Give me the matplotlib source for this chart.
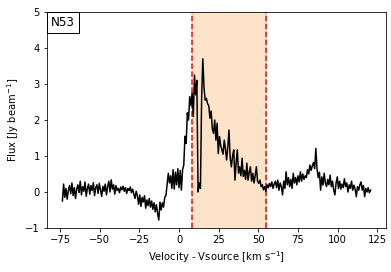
import numpy as np
import matplotlib
matplotlib.use("Agg")
import matplotlib.pyplot as plt

# Spectrum: regular channel grid and flux values
v_start = -73.5
v_step = 0.75
flux = [
    -0.25, 0.22, -0.15, 0.10, -0.20, 0.05, 0.18, -0.05, 0.25, -0.10,
    0.12, -0.18, 0.08, 0.20, -0.02, 0.30, -0.08, 0.15, 0.02, 0.28,
    -0.12, 0.10, 0.22, -0.06, 0.18, 0.04, 0.26, -0.10, 0.12, 0.20,
    -0.04, 0.24, 0.06, -0.12, 0.16, 0.02, 0.22, -0.08, 0.14, 0.30,
    0.00, 0.34, 0.08, 0.20, -0.06, 0.18, 0.04, 0.10, -0.02, 0.14,
    0.06, 0.16, 0.02, 0.12, -0.04, 0.10, 0.04, 0.14, -0.02,
    0.08, -0.05, -0.18, 0.02, -0.10, -0.34, -0.08, -0.40, -0.15, -0.28,
    -0.10, -0.45, -0.22, -0.38, -0.18, -0.42, -0.25, -0.48, -0.30, -0.55,
    -0.35, -0.60, -0.78, -0.28, -0.50, -0.30, -0.42, -0.15,
    -0.10, 0.20, 0.52, 0.25, 0.45, 0.10, 0.62, 0.08, 0.55, 0.20,
    0.65, 0.12, 0.60, 0.05, 0.62,
    0.75, 1.55, 1.35, 2.20, 2.00, 2.65, 2.40, 2.75, 2.10, 3.25,
    2.70, 3.10, 0.00, 0.25, 0.10, 2.60, 3.70, 2.90, 2.55, 2.60,
    2.45, 2.40, 2.05, 2.25, 1.75, 1.63, 2.00, 1.44, 1.91, 1.07,
    1.54, 1.30, 1.17, 1.05, 1.44, 1.20, 0.89, 1.25, 1.72, 0.95,
    0.70, 1.00, 1.17, 0.33, 0.80, 1.17, 0.52, 0.70, 0.45, 0.94,
    0.43, 0.60, 0.35, 0.80, 0.33, 0.55, 0.70, 0.30, 0.52, 0.25,
    0.45, 0.70, 0.30, 0.24, 0.33, 0.15, 0.20, 0.06, 0.15, 0.02,
    0.20, 0.12, 0.24, 0.15, 0.28, 0.10, 0.22, 0.30, 0.12, 0.33,
    0.05, 0.25, 0.15, -0.08, 0.30, 0.10, 0.56, 0.20, 0.40, 0.15,
    0.35, 0.10, 0.52, 0.25, 0.40, 0.20, 0.45, 0.28, 0.56, 0.30,
    0.50, 0.35, 0.45, 0.40, 0.62, 0.50, 0.75, 0.60, 0.72, 0.82,
    0.65, 1.21, 0.63, 0.40, 0.55, 0.05, 0.42, 0.19, 0.52, 0.25,
    0.15, 0.35, 0.20, 0.47, 0.15, 0.30, 0.05, -0.08, 0.25, 0.42,
    0.10, 0.30, 0.08, 0.22, 0.12, 0.37, 0.15, 0.25, 0.00, 0.20,
    0.10, 0.30, 0.05, 0.19, 0.08, -0.13, 0.15, 0.05, 0.20, 0.28,
    0.05, 0.18, -0.13, 0.10, 0.00, 0.12, -0.02, 0.05,
]
velocity = v_start + v_step * np.arange(len(flux))

# Integration window
v_lo = 8
v_hi = 55
label = "N53"

DPI = 72
fig = plt.figure(figsize=(391 / DPI, 272 / DPI), dpi=DPI)
ax = fig.add_axes([47 / 391, 1 - 228 / 272, 339 / 391, 216 / 272])

ax.axvspan(v_lo, v_hi, color="#fde3c8", zorder=0)
ax.axvline(v_lo, color="red", linestyle="--", lw=1.5, zorder=1)
ax.axvline(v_hi, color="red", linestyle="--", lw=1.5, zorder=1)
ax.plot(velocity, flux, color="black", lw=1.5, zorder=2)

ax.set_ylim(-1, 5)
ax.set_xticks([-75, -50, -25, 0, 25, 50, 75, 100, 125])
ax.set_yticks([-1, 0, 1, 2, 3, 4, 5])
ax.set_xlabel(r"Velocity - Vsource [km s$^{-1}$]")
ax.set_ylabel(r"Flux [Jy beam$^{-1}$]")
ax.text(0.0125, 0.98, label, transform=ax.transAxes, ha="left", va="top",
        fontsize=12, bbox=dict(facecolor="white", edgecolor="black", pad=4, lw=1.0))

fig.savefig("out.png", dpi=DPI)
